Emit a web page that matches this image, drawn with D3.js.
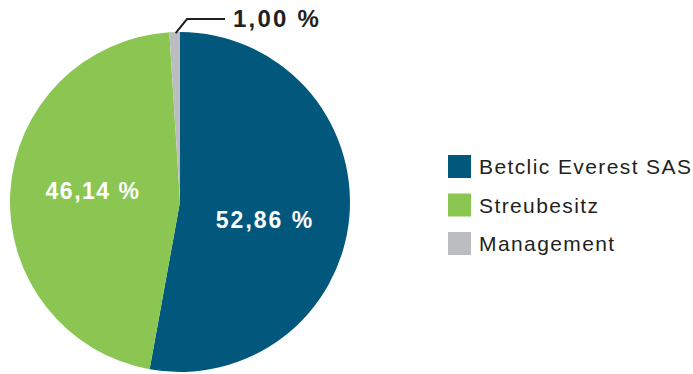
<!DOCTYPE html>
<html>
<head>
<meta charset="utf-8">
<script src="https://cdn.jsdelivr.net/npm/d3@7"></script>
<style>
  body { margin: 0; background: #fff; }
  text { font-family: "Liberation Sans", Arial, sans-serif; }
</style>
</head>
<body>
<div id="chart"></div>
<script>
var w = 693;
var h = 374;

// data
var categories = ["Betclic Everest SAS", "Streubesitz", "Management"];
var values = [52.86, 46.14, 1.00];
var labels = ["52,86 %", "46,14 %", "1,00 %"];
var colors = ["#02577d", "#8bc652", "#bcbdc0"];

var cx = 180, cy = 202, r = 170;

var svg = d3.select("#chart")
            .append("svg")
            .attr("width", w)
            .attr("height", h);

var pie = d3.pie().sort(null).value(d => d);
var arcs = pie(values);
var arc = d3.arc().innerRadius(0).outerRadius(r);

var g = svg.append("g")
           .attr("transform", "translate(" + cx + "," + cy + ")");

g.selectAll("path")
  .data(arcs)
  .enter()
  .append("path")
  .attr("d", arc)
  .attr("fill", (d, i) => colors[i]);

// labels inside slices
var labelPos = [[85, 26], [-87, -3]];
labelPos.forEach((p, i) => {
    g.append("text")
      .attr("x", p[0])
      .attr("y", p[1])
      .attr("text-anchor", "middle")
      .attr("fill", "#fff")
      .attr("font-weight", "bold")
      .attr("font-size", 23)
      .attr("letter-spacing", i == 0 ? 2 : 1.5)
      .text(labels[i]);
});

// small slice with leader line
var a = (arcs[2].startAngle + arcs[2].endAngle) / 2;
var px = Math.sin(a) * r, py = -Math.cos(a) * r;
g.append("polyline")
  .attr("points", [[px + 1, py + 1], [7, -183], [45, -183]].map(p => p.join(",")).join(" "))
  .attr("fill", "none")
  .attr("stroke", "#231f20")
  .attr("stroke-width", 2);
g.append("text")
  .attr("x", 53)
  .attr("y", -175)
  .attr("fill", "#231f20")
  .attr("font-weight", "bold")
  .attr("font-size", 24)
  .attr("letter-spacing", 2.2)
  .text(labels[2]);

// legend
var legend = svg.append("g").attr("transform", "translate(448,155)");
var items = legend.selectAll("g")
  .data(categories)
  .enter()
  .append("g")
  .attr("transform", (d, i) => "translate(0," + i * 38.5 + ")");
items.append("rect")
  .attr("width", 23)
  .attr("height", 23)
  .attr("fill", (d, i) => colors[i]);
items.append("text")
  .attr("x", 31)
  .attr("y", 19)
  .attr("fill", "#231f20")
  .attr("font-size", 21)
  .attr("letter-spacing", 1.4)
  .text(d => d);
</script>
</body>
</html>
